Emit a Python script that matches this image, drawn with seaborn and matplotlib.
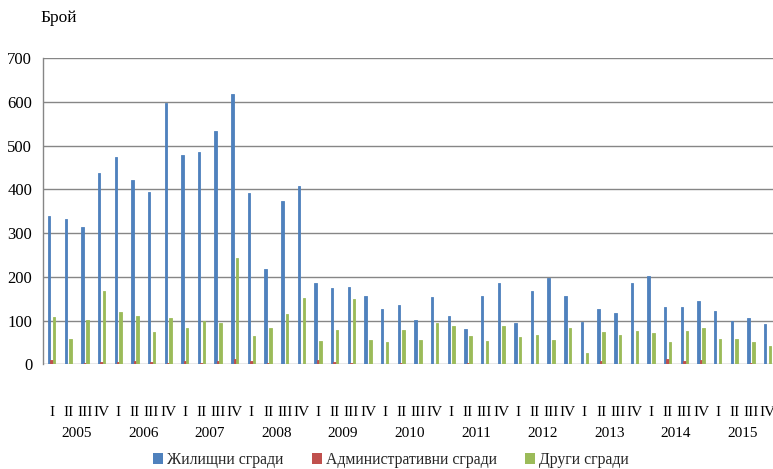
import matplotlib
matplotlib.use("Agg")
import matplotlib.pyplot as plt
import seaborn as sns
import pandas as pd
import numpy as np

years = ["2005", "2006", "2007", "2008", "2009", "2010", "2011", "2012", "2013", "2014", "2015"]
quarters = ["I", "II", "III", "IV"]
series_names = ["Жилищни сгради", "Административни сгради", "Други сгради"]

residential = [340, 332, 313, 438, 475, 421, 394, 598, 479, 486, 534, 618,
               393, 218, 373, 407, 186, 174, 177, 156, 127, 135, 101, 154,
               111, 81, 156, 186, 94, 168, 197, 156, 97, 126, 117, 186,
               203, 130, 130, 145, 123, 98, 105, 93]
administrative = [10, 0, 2, 5, 6, 7, 6, 4, 7, 2, 8, 13,
                  8, 4, 0, 0, 9, 5, 4, 0, 0, 3, 0, 0,
                  0, 4, 0, 0, 0, 0, 0, 0, 0, 7, 0, 0,
                  0, 11, 7, 9, 0, 0, 4, 0]
other = [109, 59, 101, 168, 120, 111, 74, 105, 83, 98, 95, 243,
         65, 82, 115, 151, 54, 79, 149, 55, 50, 78, 55, 95,
         88, 65, 53, 87, 63, 67, 56, 84, 26, 74, 66, 77,
         71, 51, 76, 83, 59, 59, 50, 43]

colors = ["#4F81BD", "#C0504D", "#9BBB59"]

periods = [f"{y} {q}" for y in years for q in quarters]
df = pd.DataFrame({
    "period": periods * 3,
    "series": [series_names[0]] * 44 + [series_names[1]] * 44 + [series_names[2]] * 44,
    "value": residential + administrative + other,
})

sns.set_theme(style="white")
plt.rcParams["font.family"] = ["Liberation Serif", "DejaVu Serif"]

W, H = 773, 469
fig = plt.figure(figsize=(W / 100, H / 100), dpi=100)
ax_left = 43.3
ax_right = 43.3 + 44 * 16.65
ax_bottom = 364.3
ax_top = 58.3
ax = fig.add_axes([ax_left / W, (H - ax_bottom) / H,
                   (ax_right - ax_left) / W, (ax_bottom - ax_top) / H])

sns.barplot(data=df, x="period", y="value", hue="series", order=periods,
            hue_order=series_names, palette=colors, width=0.44, dodge=True,
            saturation=1, ax=ax, legend=False)
for p in ax.patches:
    p.set_edgecolor(p.get_facecolor())
    p.set_linewidth(0.6)

ax.set_xlim(-0.5, 43.5)
ax.set_ylim(0, 700)
ax.set_yticks(np.arange(0, 701, 100))
ax.yaxis.grid(True, color="#868686", linewidth=1.0)
ax.set_axisbelow(True)
for s in ["top", "right", "bottom"]:
    ax.spines[s].set_visible(False)
ax.spines["left"].set_color("#868686")
ax.spines["left"].set_linewidth(1.0)
ax.set_xlabel("")
ax.set_ylabel("")
ax.set_xticks(range(44))
ax.set_xticklabels(quarters * len(years))
ax.tick_params(axis="x", length=0, pad=30, labelsize=11, labelcolor="black")
ax.tick_params(axis="y", length=0, pad=8, labelsize=12, labelcolor="black")

trans = matplotlib.transforms.blended_transform_factory(ax.transData, ax.transAxes)
for i, y in enumerate(years):
    ax.text(4 * i + 1.5, -0.227, y, transform=trans, ha="center", va="center",
            fontsize=11, color="black")

fig.text(40 / W, 1 - 18 / H, "Брой", ha="left", va="center", fontsize=12.5, color="black")

handles = [matplotlib.patches.Patch(facecolor=c, edgecolor="none") for c in colors]
fig.legend(handles, series_names, loc="center", bbox_to_anchor=(391 / W, 1 - 460 / H),
           ncol=3, frameon=False, fontsize=11.3, handlelength=0.65, handleheight=0.65,
           handletextpad=0.25, columnspacing=1.8)

fig.savefig("out.png", dpi=100)
